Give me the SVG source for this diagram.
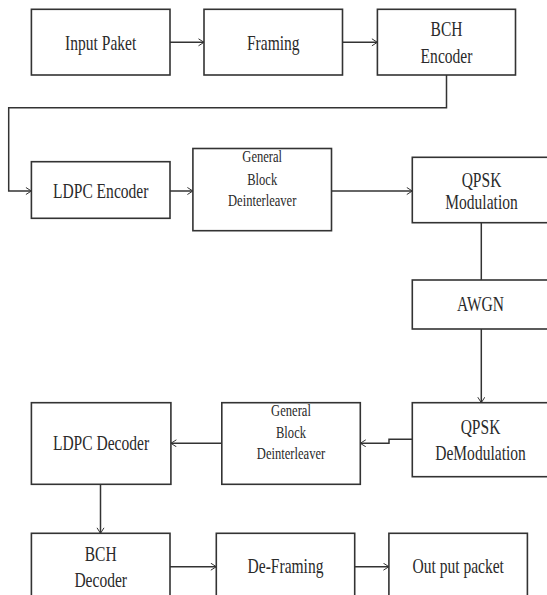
<svg xmlns="http://www.w3.org/2000/svg" width="547" height="595" viewBox="0 0 547 595">
<style>
.box{fill:#fff;stroke:#333;stroke-width:1.6}
.lbl{font-family:"Liberation Serif","Times New Roman",serif;font-size:21px;fill:#2a2a2a;text-anchor:middle}
.sm{font-size:17px}
.con{fill:none;stroke:#333;stroke-width:1.5}
</style>
<defs>
<marker id="arr" markerUnits="userSpaceOnUse" markerWidth="9" markerHeight="9" refX="6" refY="4" orient="auto">
<path d="M0.5,0.5 L6,4 L0.5,7.5" fill="none" stroke="#333" stroke-width="1"/>
</marker>
</defs>
<rect width="547" height="595" fill="#fff"/>
<g id="connectors">
<path class="con" d="M170,42.3 H204" marker-end="url(#arr)"/>
<path class="con" d="M342.5,42.3 H377.4" marker-end="url(#arr)"/>
<path class="con" d="M446.5,75 V107.7 H8.7 V191 H31.4" marker-end="url(#arr)"/>
<path class="con" d="M170,191 H192.9" marker-end="url(#arr)"/>
<path class="con" d="M331.4,191 H412.3" marker-end="url(#arr)"/>
<path class="con" d="M481.3,222.7 V280"/>
<path class="con" d="M481.3,329 V402.7" marker-end="url(#arr)"/>
<path class="con" d="M412.3,439.3 H389 V443.3 H360.3" marker-end="url(#arr)"/>
<path class="con" d="M221.8,443.3 H170.9" marker-end="url(#arr)"/>
<path class="con" d="M100.5,484.3 V533.3" marker-end="url(#arr)"/>
<path class="con" d="M170,566.7 H216.3" marker-end="url(#arr)"/>
<path class="con" d="M354.7,566.7 H388.9" marker-end="url(#arr)"/>
</g>
<g id="input-paket">
<rect class="box" x="31.4" y="9.3" width="138.6" height="65.7"/>
<text class="lbl" transform="translate(100.7,50) scale(0.74,1)">Input Paket</text>
</g>
<g id="framing">
<rect class="box" x="204" y="9.3" width="138.5" height="65.7"/>
<text class="lbl" transform="translate(273.3,50) scale(0.74,1)">Framing</text>
</g>
<g id="bch-encoder">
<rect class="box" x="377.4" y="9.3" width="138.1" height="65.7"/>
<text class="lbl" transform="translate(446.5,35.5) scale(0.74,1)">BCH</text>
<text class="lbl" transform="translate(446.5,62.8) scale(0.74,1)">Encoder</text>
</g>
<g id="ldpc-encoder">
<rect class="box" x="31.4" y="161.7" width="138.6" height="56.6"/>
<text class="lbl" transform="translate(100.7,197.5) scale(0.74,1)">LDPC Encoder</text>
</g>
<g id="block-deinterleaver-1">
<rect class="box" x="192.9" y="148.5" width="138.6" height="82.2"/>
<text class="lbl sm" transform="translate(262.2,161.7) scale(0.74,1)">General</text>
<text class="lbl sm" transform="translate(262.2,185) scale(0.74,1)">Block</text>
<text class="lbl sm" transform="translate(262.2,205.7) scale(0.74,1)">Deinterleaver</text>
</g>
<g id="qpsk-modulation">
<rect class="box" x="412.3" y="157.3" width="145" height="65.4"/>
<text class="lbl" transform="translate(481.5,187) scale(0.74,1)">QPSK</text>
<text class="lbl" transform="translate(481.5,208.8) scale(0.74,1)">Modulation</text>
</g>
<g id="awgn">
<rect class="box" x="412.3" y="280" width="145" height="49"/>
<text class="lbl" transform="translate(480.5,311) scale(0.74,1)">AWGN</text>
</g>
<g id="qpsk-demodulation">
<rect class="box" x="412.3" y="402.7" width="145" height="74"/>
<text class="lbl" transform="translate(480.5,433.8) scale(0.74,1)">QPSK</text>
<text class="lbl" transform="translate(480.5,459.5) scale(0.74,1)">DeModulation</text>
</g>
<g id="block-deinterleaver-2">
<rect class="box" x="221.8" y="402.7" width="138.5" height="81.6"/>
<text class="lbl sm" transform="translate(291,416) scale(0.74,1)">General</text>
<text class="lbl sm" transform="translate(291,437.5) scale(0.74,1)">Block</text>
<text class="lbl sm" transform="translate(291,459) scale(0.74,1)">Deinterleaver</text>
</g>
<g id="ldpc-decoder">
<rect class="box" x="31.4" y="402.7" width="139.5" height="81.6"/>
<text class="lbl" transform="translate(101,449.8) scale(0.74,1)">LDPC Decoder</text>
</g>
<g id="bch-decoder">
<rect class="box" x="31.4" y="533.3" width="138.6" height="80"/>
<text class="lbl" transform="translate(100.7,561) scale(0.74,1)">BCH</text>
<text class="lbl" transform="translate(100.7,586.5) scale(0.74,1)">Decoder</text>
</g>
<g id="de-framing">
<rect class="box" x="216.3" y="533.3" width="138.4" height="80"/>
<text class="lbl" transform="translate(285.5,573) scale(0.74,1)">De-Framing</text>
</g>
<g id="output-packet">
<rect class="box" x="388.9" y="533.3" width="138.5" height="80"/>
<text class="lbl" transform="translate(458.2,573) scale(0.74,1)">Out put packet</text>
</g>
</svg>
